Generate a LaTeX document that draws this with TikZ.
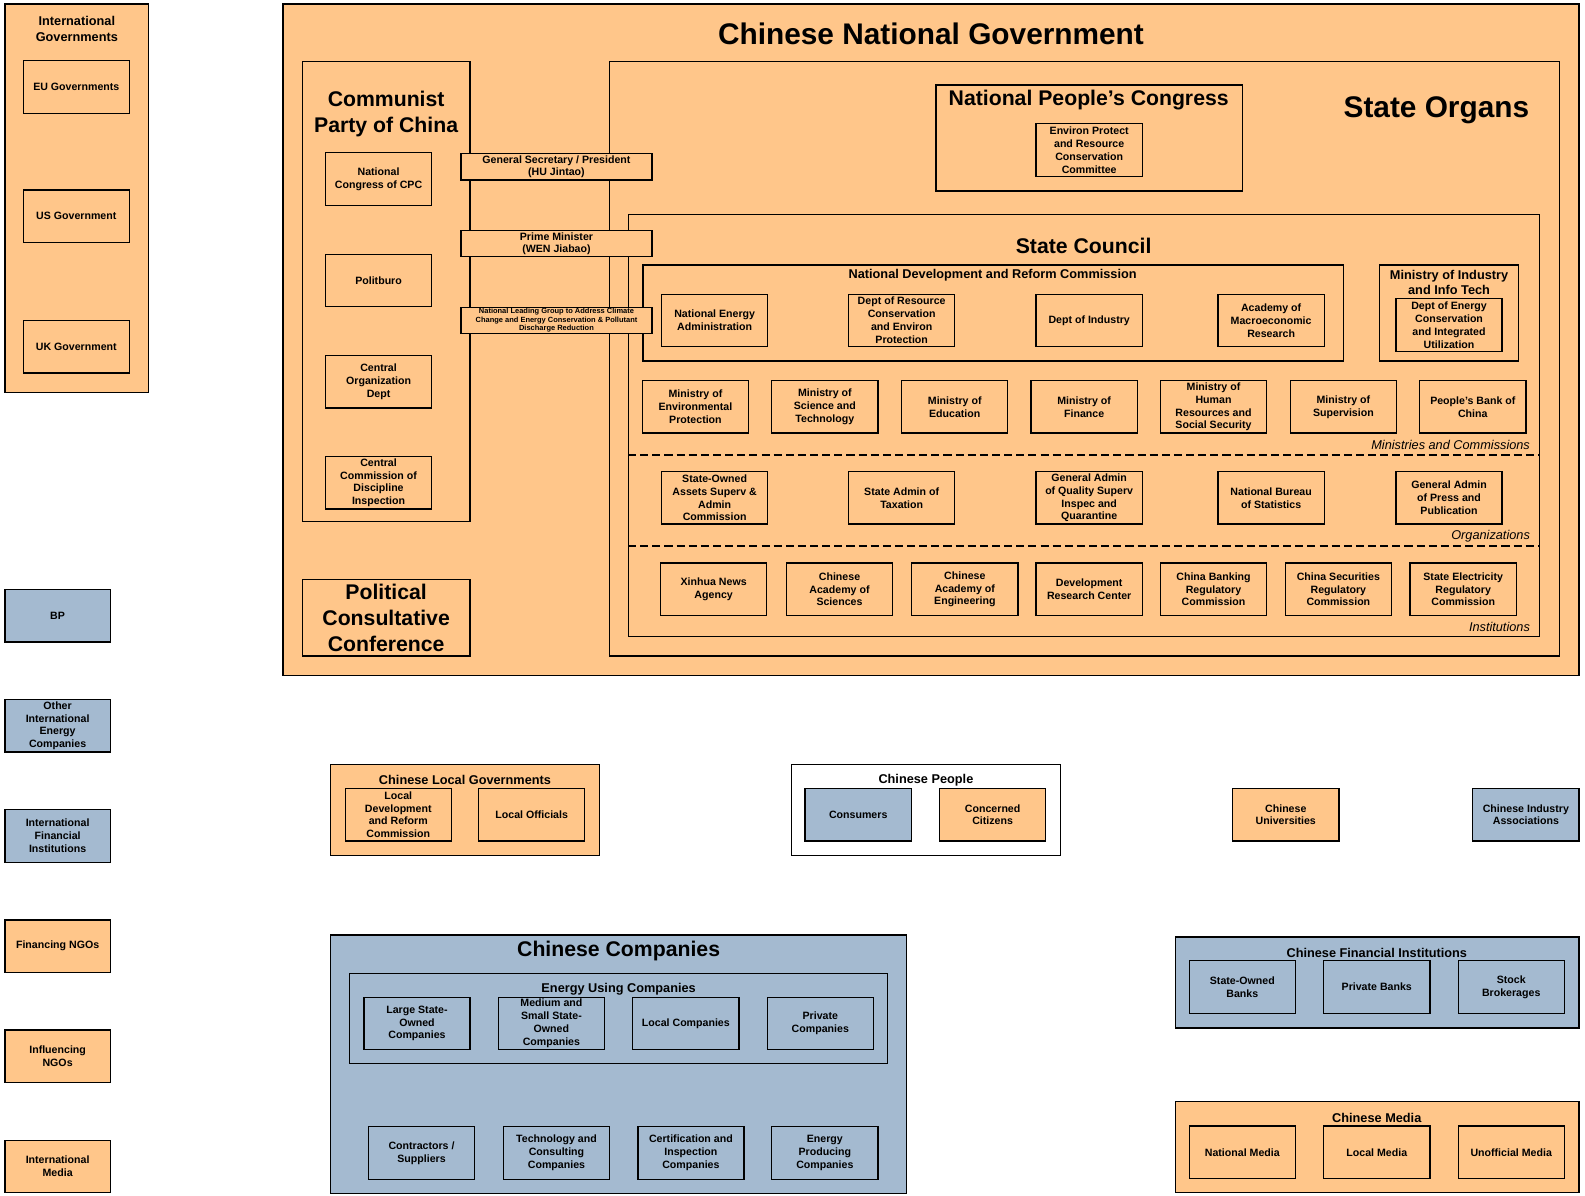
\documentclass[tikz,border=0pt]{standalone}
\usepackage{fontspec}
\setmainfont{Liberation Sans}
\usepackage{tikz}
\usetikzlibrary{fit}

\definecolor{govorange}{RGB}{255,198,138}
\definecolor{firmblue}{RGB}{164,186,208}

\newcommand{\boxfont}{\fontsize{10.5}{12.7}\selectfont\bfseries}
\newcommand{\grpfont}{\fontsize{12.6}{15.5}\selectfont\bfseries}
\newcommand{\headfont}{\fontsize{21}{25.5}\selectfont\bfseries}
\newcommand{\titlefont}{\fontsize{29.5}{34}\selectfont\bfseries}
\newcommand{\leadfont}{\fontsize{7.4}{8.5}\selectfont\bfseries}
\newcommand{\notefont}{\fontsize{12.6}{15}\selectfont\itshape}

\tikzset{
  grp/.style={draw, line width=1.3pt, fill=govorange, inner sep=0pt},
  obox/.style={draw, line width=1.3pt, fill=govorange, minimum width=105pt,
    minimum height=52pt, inner sep=0pt, align=center, font=\boxfont},
  bbox/.style={obox, fill=firmblue},
  lead/.style={obox, minimum width=189pt, minimum height=26pt},
  sepline/.style={line width=1.3pt, dash pattern=on 8pt off 4pt},
  note/.style={anchor=east, font=\notefont},
  grptitle/.style={font=\grpfont, align=center, inner sep=0pt},
  headtitle/.style={font=\headfont, align=center, inner sep=0pt},
}

\begin{document}
\begin{tikzpicture}[x=1pt, y=-1pt]
            \useasboundingbox (0,0) rectangle (1568,1183);

            % international governments
            \node[grp, fit={(5,4) (147,388)}] (intgov) {};
            \node[grptitle] (intgovtitle) at (76,28.5) {International\\Governments};
            \node[obox] (eu) at (75.5,86) {EU Governments};
            \node[obox] (us) at (75.5,214) {US Government};
            \node[obox] (uk) at (75.5,343) {UK Government};

            % the other international actors down the left side
            \foreach \cy/\nm/\fc/\txt in {609/bp/firmblue/BP,
                718/intenergy/firmblue/{Other\\International\\Energy\\Companies},
                827/intfin/firmblue/{International\\Financial\\Institutions},
                936/finngo/govorange/{Financing NGOs},
                1045/infngo/govorange/{Influencing\\NGOs},
                1154/intmedia/govorange/{International\\Media}}
              \node[obox, fill=\fc, minimum width=104pt] (\nm) at (57,\cy) {\txt};

            % the national government
            \node[grp, fit={(280,4) (1562,668)}] (natgov) {};
            \node[font=\titlefont, inner sep=0pt] (natgovtitle) at (921,33) {Chinese National Government};

            % the party
            \node[grp, fit={(299,61) (465,516)}] (cpc) {};
            \node[headtitle] (cpctitle) at (382,113) {Communist\\Party of China};
            \node[obox] (cpcongress) at (374.5,177) {National\\Congress of CPC};
            \node[obox] (politburo) at (374.5,277.5) {Politburo};
            \node[obox] (orgdept) at (374.5,377.5) {Central\\Organization\\Dept};
            \node[obox] (ccdi) at (374.5,477.5) {Central\\Commission of\\Discipline\\Inspection};
            \node[grp, fit={(299,573) (465,649)}] (pcc) {};
            \node[headtitle, font=\fontsize{21}{25.8}\selectfont\bfseries] (pcctitle) at (382,611) {Political\\Consultative\\Conference};

            % state organs
            \node[grp, fit={(603,61) (1543,649)}] (organs) {};
            \node[font=\titlefont, inner sep=0pt] (organstitle) at (1421,109.5) {State Organs};
            \node[grp, fit={(926,84) (1229,189)}] (npc) {};
            \node[headtitle] (npctitle) at (1077,99) {National People's Congress};
            \node[obox] (envcomm) at (1077.5,148.5) {Environ Protect\\and Resource\\Conservation\\Committee};

            % state council
            \node[grp, fit={(622,212) (1523,630)}] (council) {};
            \node[headtitle] (counciltitle) at (1072,243) {State Council};

            \node[grp, fit={(636,262) (1329,357)}] (ndrc) {};
            \node[grptitle] (ndrctitle) at (982,272.5) {National Development and Reform Commission};
            \node[obox] (nea) at (707,317) {National Energy\\Administration};
            \node[obox] (resdept) at (892,317) {Dept of Resource\\Conservation\\and Environ\\Protection};
            \node[obox] (inddept) at (1077.5,317) {Dept of Industry};
            \node[obox] (macro) at (1257.5,317) {Academy of\\Macroeconomic\\Research};

            \node[grp, fit={(1365,262) (1502,357)}] (miit) {};
            \node[grptitle] (miittitle) at (1433.5,279.5) {Ministry of Industry\\and Info Tech};
            \node[obox, minimum height=53pt] (energydept) at (1433.5,321.5) {Dept of Energy\\Conservation\\and Integrated\\Utilization};

            \foreach \cx/\nm/\txt in {688/mep/{Ministry of\\Environmental\\Protection},
                816/most/{Ministry of\\Science and\\Technology},
                944.5/moe/{Ministry of\\Education},
                1072.5/mof/{Ministry of\\Finance},
                1200.5/mohr/{Ministry of\\Human\\Resources and\\Social Security},
                1329/mos/{Ministry of\\Supervision},
                1457/pboc/{People's Bank of\\China}}
              \node[obox] (\nm) at (\cx,402.5) {\txt};
            \node[note] (ministries) at (1517,440) {Ministries and Commissions};
            \draw[sepline] (council.west |- 0,450) -- (council.east |- 0,450);

            \foreach \cx/\nm/\txt in {707/sasac/{State-Owned\\Assets Superv \&\\Admin\\Commission},
                892/taxation/{State Admin of\\Taxation},
                1077.5/aqsiq/{General Admin\\of Quality Superv\\Inspec and\\Quarantine},
                1257.5/statistics/{National Bureau\\of Statistics},
                1433.5/press/{General Admin\\of Press and\\Publication}}
              \node[obox] (\nm) at (\cx,492.5) {\txt};
            \node[note] (organizations) at (1517,530) {Organizations};
            \draw[sepline] (council.west |- 0,540) -- (council.east |- 0,540);

            \foreach \cx/\nm/\txt in {706/xinhua/{Xinhua News\\Agency},
                830.5/cas/{Chinese\\Academy of\\Sciences},
                954.5/cae/{Chinese\\Academy of\\Engineering},
                1077.5/drc/{Development\\Research Center},
                1200.5/cbrc/{China Banking\\Regulatory\\Commission},
                1324/csrc/{China Securities\\Regulatory\\Commission},
                1447.5/serc/{State Electricity\\Regulatory\\Commission}}
              \node[obox] (\nm) at (\cx,583) {\txt};
            \node[note] (institutions) at (1517,620) {Institutions};

            % leaders sit across the party and state boxes
            \node[lead, font=\fontsize{10.5}{12}\selectfont\bfseries] (gensec) at (550.5,165) {General Secretary / President\\(HU Jintao)};
            \node[lead, font=\fontsize{10.5}{12}\selectfont\bfseries] (premier) at (550.5,241) {Prime Minister\\(WEN Jiabao)};
            \node[lead, font=\leadfont] (leadgroup) at (550.5,317) {National Leading Group to Address Climate\\Change and Energy Conservation \& Pollutant\\Discharge Reduction};

            % local governments and people
            \node[grp, fit={(327,756) (593,846)}] (localgov) {};
            \node[grptitle] (localgovtitle) at (460,771.5) {Chinese Local Governments};
            \node[obox] (localdrc) at (394,806) {Local\\Development\\and Reform\\Commission};
            \node[obox] (officials) at (526,806) {Local Officials};

            \node[grp, fill=white, fit={(783,756) (1049,846)}] (people) {};
            \node[grptitle] (peopletitle) at (916,771.5) {Chinese People};
            \node[bbox] (consumers) at (849,806) {Consumers};
            \node[obox] (citizens) at (982,806) {Concerned\\Citizens};

            \node[obox] (universities) at (1272,806) {Chinese\\Universities};
            \node[bbox] (industryassoc) at (1509.5,806) {Chinese Industry\\Associations};

            % companies
            \node[grp, fill=firmblue, fit={(327,925) (897,1181)}] (companies) {};
            \node[headtitle] (companiestitle) at (612,940.5) {Chinese Companies};
            \node[grp, fill=firmblue, fit={(346,963) (878,1052)}] (energyusers) {};
            \node[grptitle] (energyuserstitle) at (612,978.5) {Energy Using Companies};
            \foreach \cx/\nm/\txt in {412.5/largesoe/{Large State-\\Owned\\Companies},
                545.5/smallsoe/{Medium and\\Small State-\\Owned\\Companies},
                678.5/localco/{Local Companies},
                811.5/privateco/{Private\\Companies}}
              \node[bbox] (\nm) at (\cx,1012.5) {\txt};
            \foreach \cx/\nm/\txt in {417/contractors/{Contractors /\\Suppliers},
                550.5/consulting/{Technology and\\Consulting\\Companies},
                683.5/certification/{Certification and\\Inspection\\Companies},
                816/producers/{Energy\\Producing\\Companies}}
              \node[bbox] (\nm) at (\cx,1140.5) {\txt};

            % banks and media
            \node[grp, fill=firmblue, fit={(1163,927) (1562,1017)}] (finance) {};
            \node[grptitle] (financetitle) at (1362,942.5) {Chinese Financial Institutions};
            \node[bbox] (soebanks) at (1229,976.5) {State-Owned\\Banks};
            \node[bbox] (privbanks) at (1362,976.5) {Private Banks};
            \node[bbox] (brokers) at (1495,976.5) {Stock\\Brokerages};

            \node[grp, fit={(1163,1090) (1562,1180)}] (media) {};
            \node[grptitle] (mediatitle) at (1362,1105.5) {Chinese Media};
            \node[obox] (natmedia) at (1229,1140) {National Media};
            \node[obox] (locmedia) at (1362,1140) {Local Media};
            \node[obox] (unofmedia) at (1495,1140) {Unofficial Media};
\end{tikzpicture}
\end{document}
